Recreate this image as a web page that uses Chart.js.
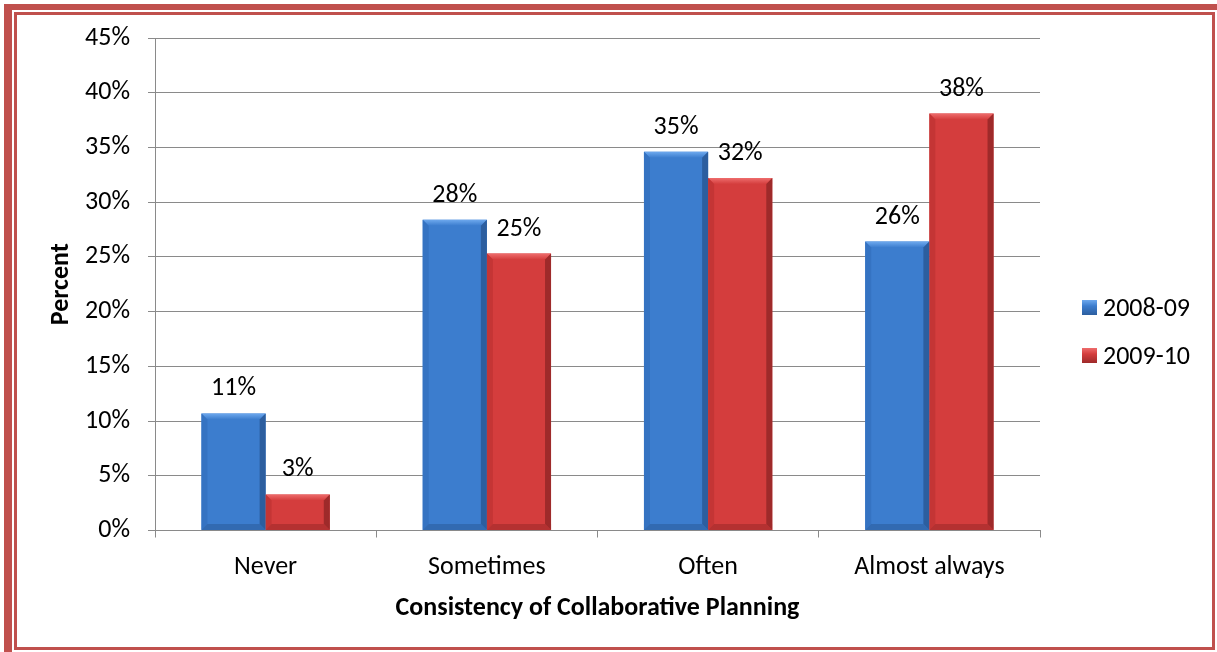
<!DOCTYPE html>
<html>
<head>
<meta charset="utf-8">
<script src="https://cdn.jsdelivr.net/npm/chart.js@4/dist/chart.umd.min.js"></script>
<style>
  html, body { margin: 0; padding: 0; background: #fff; }
  #wrap { position: relative; width: 1217px; height: 652px; overflow: hidden; font-family: Carlito, Lato, "Liberation Sans", sans-serif; }
  canvas { position: absolute; left: 0; top: 0; }
  .bd { position: absolute; background: #c0504d; }
  .leg { position: absolute; left: 1082px; font-size: 26px; color: #000; line-height: 30px; white-space: nowrap; }
  .leg span.sw { display: inline-block; width: 15px; height: 15px; vertical-align: middle; margin-right: 6px; position: relative; top: -2px; }
</style>
</head>
<body>
<div id="wrap">
  <canvas id="c" width="1217" height="652"></canvas>
  <!-- outer thick border -->
  <div class="bd" style="left:4px;top:4px;width:1213px;height:6px;"></div>
  <div class="bd" style="left:4px;top:4px;width:8px;height:648px;"></div>
  <!-- inner thin border -->
  <div class="bd" style="left:14px;top:12px;width:1201px;height:3px;"></div>
  <div class="bd" style="left:14px;top:12px;width:3px;height:638px;"></div>
  <div class="bd" style="left:1212px;top:12px;width:3px;height:638px;"></div>
  <div class="bd" style="left:14px;top:647px;width:1201px;height:3px;"></div>
  <div id="legend"></div>
</div>
<script>
const categories = ["Never", "Sometimes", "Often", "Almost always"];
const seriesNames = ["2008-09", "2009-10"];
const values2008 = [10.7, 28.4, 34.6, 26.4];
const values2009 = [3.3, 25.3, 32.2, 38.1];
const yTicks = [0, 5, 10, 15, 20, 25, 30, 35, 40, 45];
const xTitle = "Consistency of Collaborative Planning";
const yTitle = "Percent";

const FONT = 'Carlito, Lato, "Liberation Sans", sans-serif';
const palette = [
  { main: "#3c7dce", light: "#6ea9ee", dark: "#2c5e9f", left: "#3573c2" },
  { main: "#d43d3d", light: "#ee6c6c", dark: "#9e2a2a", left: "#c43535" }
];

// HTML legend
const legEl = document.getElementById("legend");
seriesNames.forEach((n, i) => {
  const d = document.createElement("div");
  d.className = "leg";
  d.style.top = (292 + i * 48) + "px";
  const p = palette[i];
  d.innerHTML = '<span class="sw" style="background:linear-gradient(180deg,' + p.light + ' 0%,' + p.main + ' 40%,' + p.dark + ' 100%);"></span>' + n;
  legEl.appendChild(d);
});

const bevelPlugin = {
  id: "bevel",
  afterDatasetsDraw(chart) {
    const ctx = chart.ctx;
    chart.data.datasets.forEach((ds, di) => {
      const meta = chart.getDatasetMeta(di);
      const p = palette[di];
      meta.data.forEach((bar, i) => {
        const w = bar.width, x0 = bar.x - w / 2, x1 = bar.x + w / 2;
        const y0 = bar.y, yb = bar.base;
        const b = Math.min(6, (yb - y0) / 2);
        ctx.save();
        let g = ctx.createLinearGradient(0, y0, 0, y0 + b);
        g.addColorStop(0, p.light); g.addColorStop(1, p.main);
        ctx.fillStyle = g;
        ctx.beginPath();
        ctx.moveTo(x0, y0); ctx.lineTo(x1, y0); ctx.lineTo(x1 - b, y0 + b); ctx.lineTo(x0 + b, y0 + b); ctx.closePath(); ctx.fill();
        ctx.fillStyle = p.left;
        ctx.beginPath();
        ctx.moveTo(x0, y0); ctx.lineTo(x0 + b, y0 + b); ctx.lineTo(x0 + b, yb - b); ctx.lineTo(x0, yb); ctx.closePath(); ctx.fill();
        ctx.fillStyle = p.dark;
        ctx.beginPath();
        ctx.moveTo(x1, y0); ctx.lineTo(x1 - b, y0 + b); ctx.lineTo(x1 - b, yb - b); ctx.lineTo(x1, yb); ctx.closePath(); ctx.fill();
        ctx.globalAlpha = 0.6;
        ctx.beginPath();
        ctx.moveTo(x0, yb); ctx.lineTo(x0 + b, yb - b); ctx.lineTo(x1 - b, yb - b); ctx.lineTo(x1, yb); ctx.closePath(); ctx.fill();
        ctx.restore();
      });
    });
  }
};

const labelPlugin = {
  id: "valueLabels",
  afterDatasetsDraw(chart) {
    const ctx = chart.ctx;
    ctx.save();
    ctx.font = "26px " + FONT;
    ctx.fillStyle = "#000";
    ctx.textAlign = "center";
    ctx.textBaseline = "alphabetic";
    chart.data.datasets.forEach((ds, di) => {
      const meta = chart.getDatasetMeta(di);
      meta.data.forEach((bar, i) => {
        ctx.fillText(Math.round(ds.data[i]) + "%", bar.x, bar.y - 18);
      });
    });
    ctx.restore();
  }
};

new Chart(document.getElementById("c"), {
  type: "bar",
  data: {
    labels: categories,
    datasets: [
      { label: seriesNames[0], data: values2008, backgroundColor: palette[0].main, borderWidth: 0 },
      { label: seriesNames[1], data: values2009, backgroundColor: palette[1].main, borderWidth: 0 }
    ]
  },
  options: {
    responsive: false,
    animation: false,
    events: [],
    layout: { padding: { left: 46, right: 177, top: 38, bottom: 0 } },
    datasets: { bar: { categoryPercentage: 0.58, barPercentage: 1.0 } },
    plugins: { legend: { display: false }, tooltip: { enabled: false } },
    scales: {
      x: {
        grid: { display: true, drawOnChartArea: false, drawTicks: true, tickLength: 7, color: "#8a8a8a", offset: true },
        border: { display: true, color: "#8a8a8a", width: 1 },
        ticks: { font: { family: FONT, size: 26 }, color: "#000", padding: 14, maxRotation: 0 },
        title: { display: true, text: xTitle, font: { family: FONT, size: 26, weight: "bold" }, color: "#000", padding: { top: 4, bottom: 28 } },
        afterFit(s) { s.height = 121.5; }
      },
      y: {
        min: 0, max: 45,
        afterBuildTicks(s) { s.ticks = yTicks.map(v => ({ value: v })); },
        grid: { color: "#8a8a8a", lineWidth: 1, drawTicks: true, tickLength: 7 },
        border: { display: true, color: "#8a8a8a", width: 1 },
        ticks: { font: { family: FONT, size: 26 }, color: "#000", padding: 18, callback: v => v + "%" },
        title: { display: true, text: yTitle, font: { family: FONT, size: 26, weight: "bold" }, color: "#000", padding: { top: 0, bottom: 0 } },
        afterFit(s) { s.width = 109; }
      }
    }
  },
  plugins: [bevelPlugin, labelPlugin]
});
</script>
</body>
</html>
